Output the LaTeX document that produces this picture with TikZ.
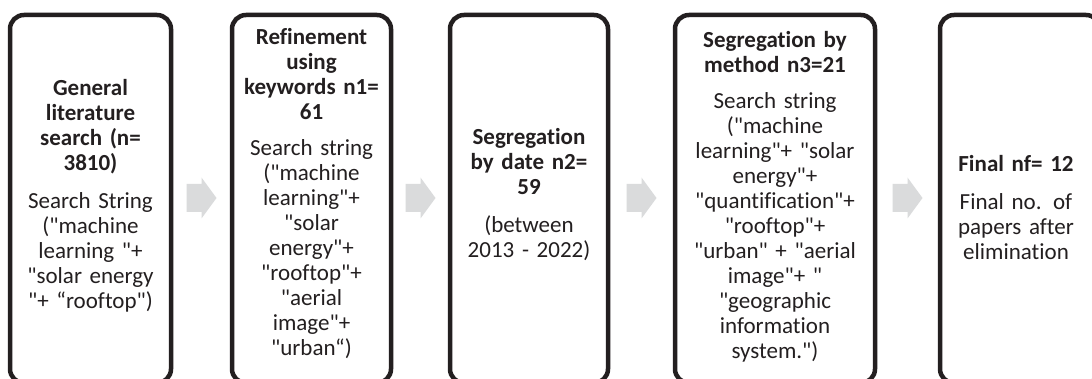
\documentclass[tikz,border=0pt]{standalone}
\usepackage{fontspec}
\setmainfont{Carlito}[Ligatures={TeXOff,NoCommon}]
\usetikzlibrary{calc}

\definecolor{boxline}{HTML}{231F20}
\definecolor{arrowgray}{HTML}{DADBDC}

\tikzset{
    stage/.style={draw=boxline, line width=4.5pt, rounded corners=14pt,
        minimum height=368pt, inner sep=0pt},
    stagetext/.style={align=center, inner sep=0pt, text=boxline,
        font=\fontsize{23}{25}\selectfont},
}

\begin{document}
\begin{tikzpicture}[x=1pt, y=-1pt]
    \clip (0, 0) rectangle (1092, 379);
    \fill [white] (0, 0) rectangle (1092, 379);

    % the five stages
    \node [stage, minimum width=161pt] (b1) at (90.5, 199) {};
    \node [stage, minimum width=159pt] (b2) at (311.5, 199) {};
    \node [stage, minimum width=158pt] (b3) at (529, 199) {};
    \node [stage, minimum width=200pt] (b4) at (775, 199) {};
    \node [stage, minimum width=160pt] (b5) at (1020, 199) {};

    \node [stagetext, text width=155pt] (t1) at ([yshift=3pt]b1.center)
        {\bfseries General\\literature\\search (n=\\3810)\\[13pt]\mdseries
        Search String\\("machine\\learning "+\\"solar energy\\"+ “rooftop")};
    \node [stagetext, text width=155pt] (t2) at ([yshift=5pt]b2.center)
        {\bfseries Refinement\\using\\keywords n1=\\61\\[11pt]\mdseries
        Search string\\("machine\\learning"+\\"solar\\energy"+\\"rooftop"+\\"aerial\\image"+\\"urban“)};
    \node [stagetext, text width=155pt] (t3) at ([yshift=4pt]b3.center)
        {\bfseries Segregation\\by date n2=\\59\\[13pt]\mdseries
        (between\\2013 - 2022)};
    \node [stagetext, text width=195pt] (t4) at ([yshift=2pt]b4.center)
        {\bfseries Segregation by\\method n3=21\\[11pt]\mdseries
        Search string\\("machine\\learning"+ "solar\\energy"+\\"quantification"+\\"rooftop"+\\"urban" + "aerial\\image"+ "\\"geographic\\information\\system.")};
    \node [stagetext, text width=155pt] (t5) at ([xshift=-4pt, yshift=-9pt]b5.center)
        {\bfseries Final nf= 12\\[13pt]\mdseries
        Final no. of\\papers after\\elimination};

    % gray arrows in the gaps
    \foreach \a/\b [count=\i] in {b1/b2, b2/b3, b3/b4, b4/b5} {
        \coordinate (a\i) at ($(\a.east)!0.5!(\b.west) + (0, -1)$);
        \fill [arrowgray, shift={(a\i)}] (-15, -14) -- (0, -14) -- (0, -20.5)
            -- (15, 0) -- (0, 20.5) -- (0, 14) -- (-15, 14) -- cycle;
        }
\end{tikzpicture}
\end{document}
